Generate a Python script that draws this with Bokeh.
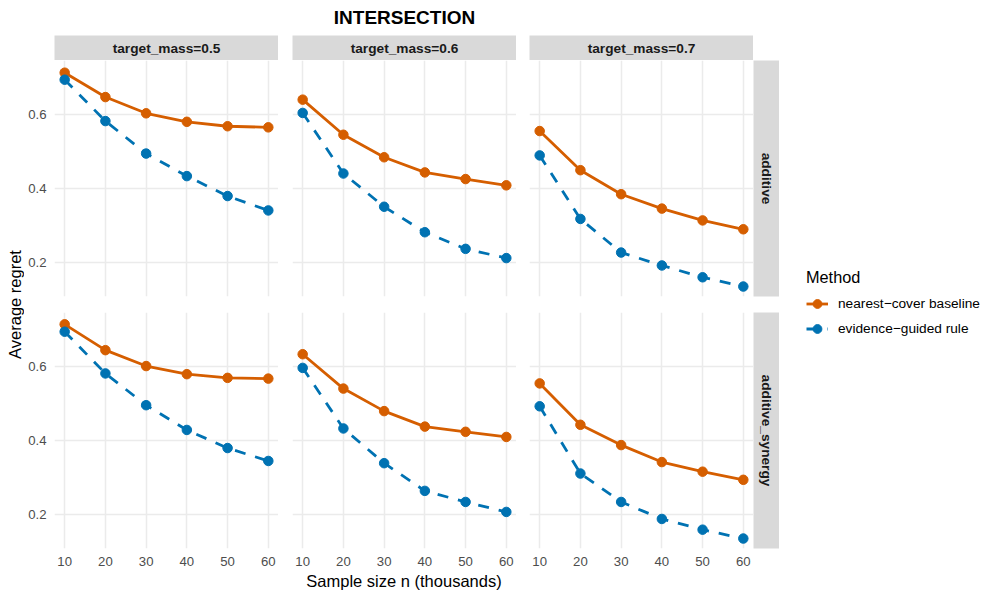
import math
from bokeh.plotting import figure
from bokeh.layouts import row, column
from bokeh.models import Range1d, FixedTicker, Legend, LegendItem, Spacer
from bokeh.core.properties import value
from bokeh.embed import file_html
from bokeh.resources import INLINE

# ---------------- data ----------------
n_thousands = [10, 20, 30, 40, 50, 60]
x_ticks = [10, 20, 30, 40, 50, 60]
y_ticks = [0.2, 0.4, 0.6]
target_mass_labels = ["target_mass=0.5", "target_mass=0.6", "target_mass=0.7"]
structure_labels = ["additive", "additive_synergy"]
method_labels = ["nearest\u2212cover baseline", "evidence\u2212guided rule"]
chart_title = "INTERSECTION"
x_title = "Sample size n (thousands)"
y_title = "Average regret"
legend_title = "Method"

baseline_additive_05 = [0.714, 0.648, 0.604, 0.581, 0.569, 0.566]
guided_additive_05 = [0.695, 0.583, 0.495, 0.434, 0.380, 0.341]
baseline_additive_06 = [0.641, 0.546, 0.485, 0.444, 0.426, 0.409]
guided_additive_06 = [0.605, 0.441, 0.351, 0.282, 0.237, 0.212]
baseline_additive_07 = [0.556, 0.450, 0.385, 0.346, 0.314, 0.290]
guided_additive_07 = [0.490, 0.318, 0.227, 0.192, 0.160, 0.135]
baseline_synergy_05 = [0.715, 0.645, 0.602, 0.580, 0.570, 0.568]
guided_synergy_05 = [0.695, 0.582, 0.496, 0.429, 0.380, 0.345]
baseline_synergy_06 = [0.634, 0.541, 0.480, 0.438, 0.424, 0.410]
guided_synergy_06 = [0.597, 0.433, 0.339, 0.264, 0.234, 0.207]
baseline_synergy_07 = [0.555, 0.443, 0.388, 0.342, 0.316, 0.294]
guided_synergy_07 = [0.493, 0.311, 0.234, 0.188, 0.159, 0.135]

baseline_grid = [[baseline_additive_05, baseline_additive_06, baseline_additive_07],
                 [baseline_synergy_05, baseline_synergy_06, baseline_synergy_07]]
guided_grid = [[guided_additive_05, guided_additive_06, guided_additive_07],
               [guided_synergy_05, guided_synergy_06, guided_synergy_07]]

# ---------------- style ----------------
FONT = "Liberation Sans"
ORANGE = "#D55E00"
BLUE = "#0072B2"
GRID = "#EBEBEB"
STRIP = "#D9D9D9"
TICK_COLOR = "#4D4D4D"
STRIP_TEXT = "#1A1A1A"
X_RANGE = (7.5, 62.5)
Y_RANGE = (0.108, 0.747)
LINE_W = 2.8
DASH = "11 10"

PANEL_W = 224
PANEL_H = 236
COL_LEFT = [30, 14, 13]
RSTRIP_W = 26
STRIP_H = 25
ROW1_BOTTOM = 16
ROW2_BOTTOM = 24
TITLE_H = 35
XTITLE_H = 18
YTITLE_W = 24
LEGEND_W = 210
MAIN_H = STRIP_H + PANEL_H + ROW1_BOTTOM + PANEL_H + ROW2_BOTTOM + XTITLE_H
TOTAL_W = YTITLE_W + sum(COL_LEFT) + 3 * PANEL_W + RSTRIP_W + LEGEND_W


def blank_fig(w, h, xr, yr, bg="white", **kw):
    f = figure(width=w, height=h, output_backend="svg", toolbar_location=None,
               x_range=Range1d(*xr), y_range=Range1d(*yr),
               x_axis_location=None, y_axis_location=None, min_border=0, **kw)
    f.outline_line_color = None
    f.background_fill_color = bg
    f.border_fill_color = "white"
    f.grid.visible = False
    return f


def panel(ci, ri):
    bottom = ROW1_BOTTOM if ri == 0 else ROW2_BOTTOM
    p = figure(width=COL_LEFT[ci] + PANEL_W, height=PANEL_H + bottom,
               output_backend="svg", toolbar_location=None,
               x_range=Range1d(*X_RANGE), y_range=Range1d(*Y_RANGE),
               min_border=0, min_border_left=COL_LEFT[ci], min_border_bottom=bottom)
    p.outline_line_color = None
    p.background_fill_color = "white"
    p.border_fill_color = "white"
    p.xaxis.ticker = FixedTicker(ticks=x_ticks, minor_ticks=[])
    p.yaxis.ticker = FixedTicker(ticks=y_ticks, minor_ticks=[])
    for g in (p.xgrid, p.ygrid):
        g.grid_line_color = GRID
        g.grid_line_width = 1.5
        g.minor_grid_line_color = None
    for ax in (p.xaxis, p.yaxis):
        ax.axis_line_color = None
        ax.major_tick_line_color = None
        ax.minor_tick_line_color = None
        ax.major_tick_out = 0
        ax.major_tick_in = 0
        ax.minor_tick_out = 0
        ax.major_label_text_font = FONT
        ax.major_label_text_font_size = "13.2px"
        ax.major_label_text_color = TICK_COLOR
        ax.major_label_standoff = 8
    p.xaxis.visible = (ri == 1)
    p.yaxis.visible = (ci == 0)

    b = baseline_grid[ri][ci]
    g_ = guided_grid[ri][ci]
    p.line(n_thousands, b, line_color=ORANGE, line_width=LINE_W)
    p.scatter(n_thousands, b, size=9.5, fill_color=ORANGE, line_color=ORANGE)
    p.line(n_thousands, g_, line_color=BLUE, line_width=LINE_W, line_dash=DASH)
    p.scatter(n_thousands, g_, size=9.5, fill_color=BLUE, line_color=BLUE)
    return p


# title
title_fig = blank_fig(TOTAL_W, TITLE_H, (0, TOTAL_W), (TITLE_H, 0))
title_fig.text(x=[404], y=[17], text=[chart_title], text_font=value(FONT),
               text_font_size="19px", text_font_style="bold", text_color="black",
               text_align="center", text_baseline="middle")

# y title
ytitle_fig = blank_fig(YTITLE_W, MAIN_H, (0, YTITLE_W), (MAIN_H, 0))
ytitle_fig.text(x=[14.5], y=[269], text=[y_title], text_font=value(FONT),
                text_font_size="16.5px", text_color="black", angle=math.pi / 2,
                text_align="center", text_baseline="middle")

# top strips
strips = []
for ci in range(3):
    s = figure(width=COL_LEFT[ci] + PANEL_W, height=STRIP_H, output_backend="svg",
               toolbar_location=None, x_range=Range1d(0, 1), y_range=Range1d(0, 1),
               x_axis_location=None, y_axis_location=None, min_border=0,
               min_border_left=COL_LEFT[ci])
    s.outline_line_color = None
    s.background_fill_color = STRIP
    s.border_fill_color = "white"
    s.grid.visible = False
    s.text(x=[0.5], y=[0.5], text=[target_mass_labels[ci]], text_font=value(FONT),
           text_font_size="13.7px", text_font_style="bold", text_color=STRIP_TEXT,
           text_align="center", text_baseline="middle")
    strips.append(s)
strip_row = row(*strips, Spacer(width=RSTRIP_W, height=STRIP_H))

rows = []
for ri in range(2):
    bottom = ROW1_BOTTOM if ri == 0 else ROW2_BOTTOM
    figs = [panel(ci, ri) for ci in range(3)]
    rs = figure(width=RSTRIP_W, height=PANEL_H + bottom, output_backend="svg",
                toolbar_location=None, x_range=Range1d(0, 1), y_range=Range1d(0, 1),
                x_axis_location=None, y_axis_location=None, min_border=0,
                min_border_bottom=bottom)
    rs.outline_line_color = None
    rs.background_fill_color = STRIP
    rs.border_fill_color = "white"
    rs.grid.visible = False
    rs.text(x=[0.5], y=[0.5], text=[structure_labels[ri]], text_font=value(FONT),
            text_font_size="13.7px", text_font_style="bold", text_color=STRIP_TEXT,
            angle=-math.pi / 2, text_align="center", text_baseline="middle")
    rows.append(row(*figs, rs))

mid_w = sum(COL_LEFT) + 3 * PANEL_W + RSTRIP_W
xtitle_fig = blank_fig(mid_w, XTITLE_H, (0, mid_w), (XTITLE_H, 0))
xtitle_fig.text(x=[379.5], y=[8], text=[x_title], text_font=value(FONT),
                text_font_size="16.5px", text_color="black",
                text_align="center", text_baseline="middle")

middle = column(strip_row, rows[0], rows[1], xtitle_fig)

# legend: its renderers carry series data but lie outside this figure's ranges,
# so only their legend keys are visible
lg = blank_fig(LEGEND_W, MAIN_H, (-100, -99), (-100, -99))
l1 = lg.line(n_thousands, baseline_additive_05, line_color=ORANGE, line_width=LINE_W)
m1 = lg.scatter(n_thousands, baseline_additive_05, fill_color=ORANGE, line_color=ORANGE)
l2 = lg.line(n_thousands, guided_additive_05, line_color=BLUE, line_width=LINE_W, line_dash=DASH)
m2 = lg.scatter(n_thousands, guided_additive_05, fill_color=BLUE, line_color=BLUE)
legend = Legend(items=[LegendItem(label=method_labels[0], renderers=[l1, m1]),
                       LegendItem(label=method_labels[1], renderers=[l2, m2])],
                location=(27, 249), title=legend_title,
                title_text_font=FONT, title_text_font_size="16.3px",
                title_text_font_style="normal", title_text_color="black",
                title_standoff=4,
                label_text_font=FONT, label_text_font_size="13.7px",
                label_text_color="black",
                glyph_width=22, glyph_height=25, label_height=25,
                label_standoff=10, spacing=0, padding=0, margin=0,
                border_line_color=None, background_fill_alpha=0)
lg.add_layout(legend, "center")

layout = column(title_fig, row(ytitle_fig, middle, lg))

open("out.html", "w").write(file_html(layout, INLINE))
